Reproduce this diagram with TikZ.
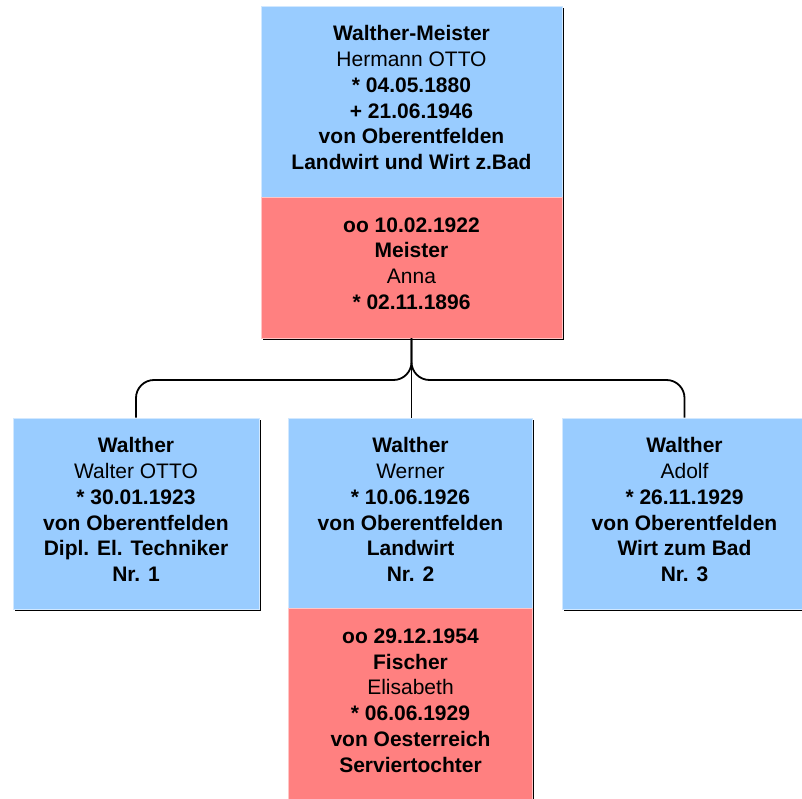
\documentclass[tikz,border=0pt]{standalone}
\usepackage{fontspec}
\setmainfont{Liberation Sans}
\definecolor{manblue}{HTML}{99CCFF}
\definecolor{wifered}{HTML}{FF8080}

\begin{document}
\begin{tikzpicture}[x=1pt,y=-1pt,
    box/.style={rectangle,inner sep=0pt,align=center,line width=0.8pt,
        font=\fontsize{21}{25.8}\selectfont,
        execute at end node={\rule[-8pt]{0pt}{0pt}},
        preaction={fill=black,transform canvas={shift={(1.8pt,-1.8pt)}}}},
    man/.style={box,fill=manblue,draw=manblue!45!white},
    wife/.style={box,fill=wifered,draw=wifered!45!white},
    branch/.style={line width=1.8pt,rounded corners=18pt}]

    % frame
    \useasboundingbox (0,0) rectangle (802,799);
    \clip (0,0) rectangle (802,799);

    % parents
    \node[man,minimum width=301pt,minimum height=191pt] (father) at (411.5,101.5)
        {\textbf{Walther-Meister}\\Hermann OTTO\\\textbf{* 04.05.1880}\\\textbf{+ 21.06.1946}\\
         \textbf{von Oberentfelden}\\\textbf{Landwirt und Wirt z.Bad}};
    \node[wife,minimum width=301pt,minimum height=141pt] (mother) at (411.5,267.5)
        {\textbf{oo 10.02.1922}\\\textbf{Meister}\\Anna\\\textbf{* 02.11.1896}};

    % children
    \node[man,minimum width=246pt,minimum height=191pt] (walter) at (136,513.5)
        {\textbf{Walther}\\Walter OTTO\\\textbf{* 30.01.1923}\\\textbf{von Oberentfelden}\\
         \textbf{Dipl. El. Techniker}\\\textbf{Nr. 1}};
    \node[man,minimum width=244pt,minimum height=191pt] (werner) at (410.5,513.5)
        {\textbf{Walther}\\Werner\\\textbf{* 10.06.1926}\\\textbf{von Oberentfelden}\\
         \textbf{Landwirt}\\\textbf{Nr. 2}};
    \node[man,minimum width=245pt,minimum height=191pt] (adolf) at (684.5,513.5)
        {\textbf{Walther}\\Adolf\\\textbf{* 26.11.1929}\\\textbf{von Oberentfelden}\\
         \textbf{Wirt zum Bad}\\\textbf{Nr. 3}};
    \node[wife,minimum width=244pt,minimum height=193pt] (elisabeth) at (410.5,704.5)
        {\textbf{oo 29.12.1954}\\\textbf{Fischer}\\Elisabeth\\\textbf{* 06.06.1929}\\
         \textbf{von Oesterreich}\\\textbf{Serviertochter}};

    % lines
    \coordinate (fork) at (411,380);
    \draw[branch] (mother.south) -- (mother.south |- werner.north);
    \draw[branch] (mother.south) |- (walter.north |- fork) -- (walter.north);
    \draw[branch] (mother.south) |- (adolf.north |- fork) -- (adolf.north);
\end{tikzpicture}
\end{document}
